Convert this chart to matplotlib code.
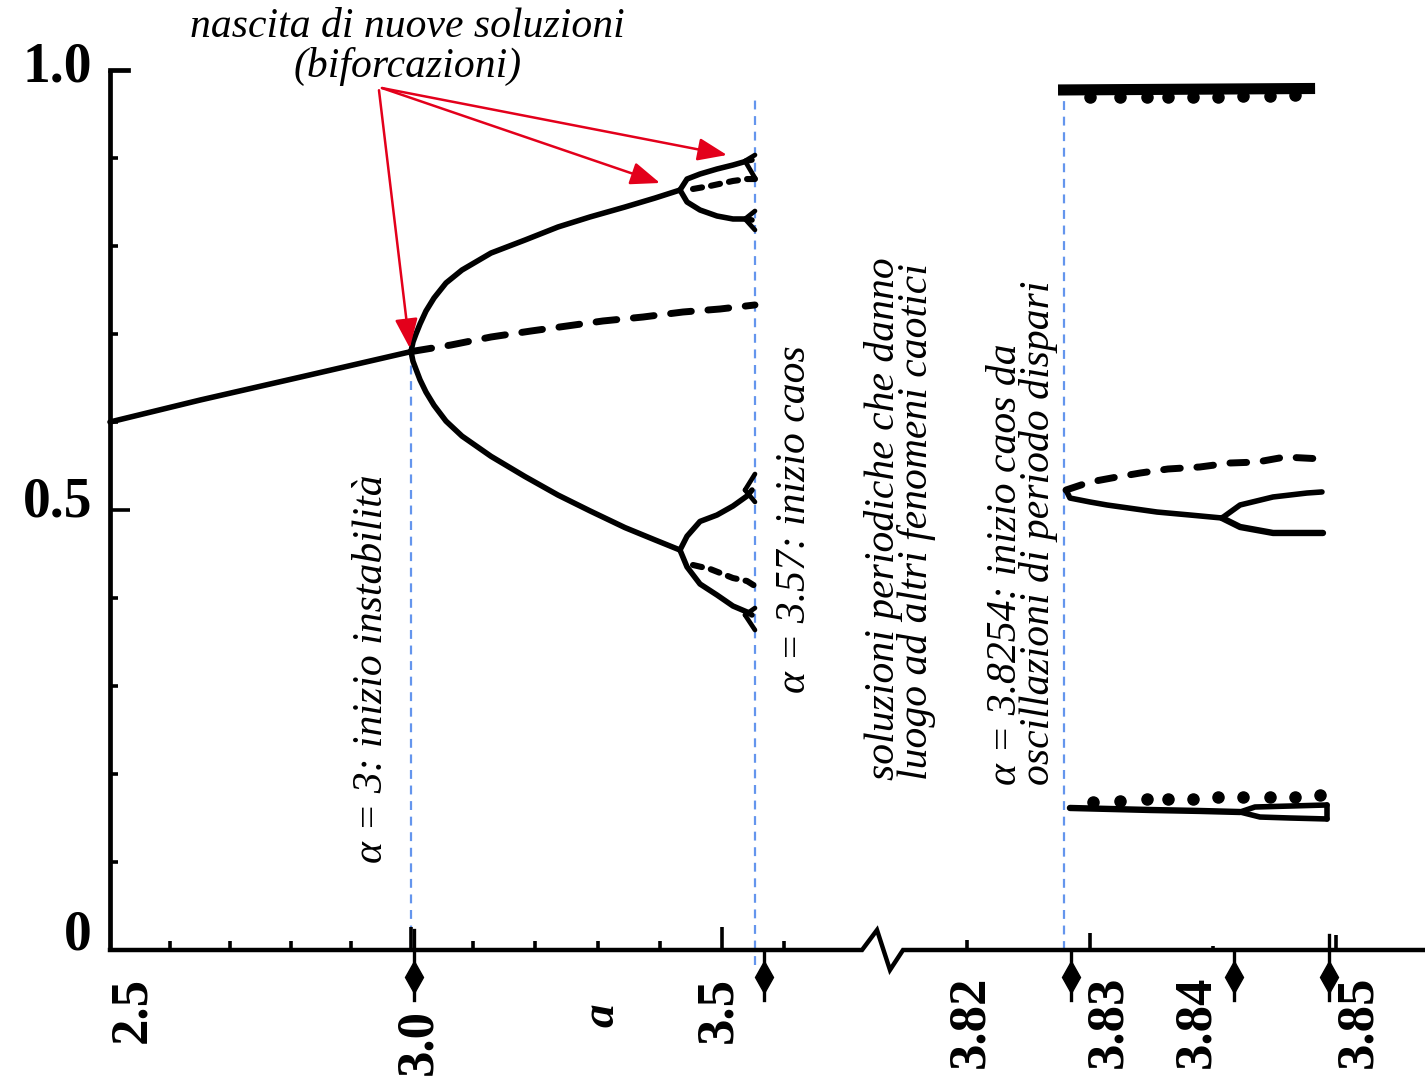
import numpy as np
import matplotlib
matplotlib.use("Agg")
import matplotlib.pyplot as plt

# ---------------------------------------------------------------------------
#  broken alpha axis: 2.5-3.6 linear, compressed gap, 3.82-3.86 expanded
# ---------------------------------------------------------------------------
SCALE_ALPHA = [2.0, 2.5, 3.0, 3.6, 3.82, 3.90]
SCALE_POS = [-191.0, 110.0, 411.0, 784.0, 967.0, 1951.0]


def fwd(a):
    return np.interp(a, SCALE_ALPHA, SCALE_POS)


def inv(p):
    return np.interp(p, SCALE_POS, SCALE_ALPHA)


BLUE = "#6495ED"
RED = "#E3001B"
SERIF = "Liberation Serif"
LW = 4.0

# ---------------------------------------------------------------------------
#  data (alpha, x)
# ---------------------------------------------------------------------------
# period 1, stable / unstable
p1_a = [2.5, 2.65, 2.816, 3.0]
p1_x = [0.600, 0.625, 0.651, 0.680]
p1u_a = [3.0, 3.0643, 3.1287, 3.193, 3.2509, 3.3088, 3.3732, 3.4375, 3.497, 3.5533]
p1u_x = [0.680, 0.6875, 0.6966, 0.7034, 0.7091, 0.7148, 0.7193, 0.725, 0.7284, 0.733]

# period 2
p2_a = [3.0, 3.0032, 3.008, 3.0145, 3.0241, 3.037, 3.0563, 3.082, 3.1287,
        3.1834, 3.2364, 3.2879, 3.3442, 3.3925, 3.4327]
p2_hi = [0.680, 0.6909, 0.700, 0.7114, 0.7261, 0.7409, 0.758, 0.7727, 0.792,
         0.8068, 0.8216, 0.833, 0.8443, 0.8545, 0.8636]
p2_lo = [0.680, 0.669, 0.660, 0.648, 0.634, 0.619, 0.601, 0.584, 0.561,
         0.538, 0.517, 0.499, 0.480, 0.466, 0.4545]

# period 4 (upper pair and lower pair) and unstable period 2
p4_a = [3.4327, 3.444, 3.4649, 3.4922, 3.5179, 3.5405, 3.5485]
p4a_hi = [0.8636, 0.8761, 0.8818, 0.8875, 0.892, 0.8966, 0.8977]
p4a_lo = [0.8636, 0.850, 0.8409, 0.8341, 0.8307, 0.8307, 0.8295]
p4b_hi = [0.4545, 0.4702, 0.487, 0.4943, 0.5045, 0.5159, 0.5227]
p4b_lo = [0.4545, 0.4353, 0.4159, 0.4034, 0.3909, 0.3841, 0.3807]
p2u_a = [3.4536, 3.481, 3.5179, 3.5405, 3.5533]
p2u_hi = [0.8648, 0.8682, 0.8739, 0.8761, 0.8761]
p2u_lo = [0.4375, 0.4330, 0.4227, 0.4193, 0.4136]

# period 8 forks at the ends of the period-4 branches
p8_a = [3.5373, 3.5533]
p8_tips = [(0.8966, 0.9034, 0.8773), (0.8307, 0.8398, 0.8182),
           (0.5227, 0.5409, 0.5091), (0.3807, 0.3886, 0.3636)]

# period-3 window
p3top_a = [3.8274, 3.8483]
p3top_x = [0.9773, 0.9790]
p3top_dot_a = [3.83, 3.83244, 3.83463, 3.83634, 3.83837, 3.84041, 3.84244, 3.84463, 3.84667]
p3top_dot_x = [0.9693, 0.9693, 0.9693, 0.9693, 0.9693, 0.9693, 0.9705, 0.9705, 0.9716]

p3mid_a = [3.82805, 3.82837, 3.83, 3.83138, 3.83545, 3.83813, 3.84073]
p3mid_x = [0.5227, 0.5136, 0.5091, 0.5057, 0.4977, 0.4943, 0.4909]
p3mid_hi_a = [3.84073, 3.8422, 3.84488, 3.84764, 3.84886]
p3mid_hi_x = [0.4909, 0.5057, 0.5148, 0.5193, 0.5205]
p3mid_lo_a = [3.84073, 3.8422, 3.84488, 3.84894]
p3mid_lo_x = [0.4909, 0.4807, 0.4739, 0.4739]
p3mid_u_a = [3.82805, 3.83, 3.8322, 3.83407, 3.83634, 3.83894, 3.84138, 3.84358, 3.84585, 3.84886]
p3mid_u_x = [0.5227, 0.5318, 0.5375, 0.542, 0.5466, 0.5489, 0.5534, 0.5545, 0.5602, 0.558]

p3bot_a = [3.82837, 3.83488, 3.83894, 3.8422]
p3bot_x = [0.1614, 0.1591, 0.158, 0.1568]
p3bot_hi_a = [3.8422, 3.84341, 3.84626, 3.84927]
p3bot_hi_x = [0.1568, 0.1625, 0.1636, 0.1648]
p3bot_lo_a = [3.8422, 3.84382, 3.84626, 3.84927]
p3bot_lo_x = [0.1568, 0.1511, 0.150, 0.1489]
p3bot_dot_a = [3.83024, 3.83244, 3.83463, 3.83634, 3.83837, 3.84041, 3.84244, 3.84463, 3.84667, 3.8487]
p3bot_dot_x = [0.1682, 0.1693, 0.1716, 0.1716, 0.1716, 0.1739, 0.1739, 0.1739, 0.1739, 0.1761]

# reference lines, bifurcation markers, axis ticks
ref_a = [3.0, 3.5533, 3.82789]
ref_top = [0.680, 0.966, 0.983]
ref_bot = [0.0, -0.017, 0.0]
mark_a = [3.0048, 3.5678, 3.82846, 3.84171, 3.84943]
mark_top = [0.0227, -0.002, 0.0, 0.0, 0.017]
xt_minor = [2.6, 2.7, 2.8, 2.9, 3.1, 3.2, 3.3, 3.4, 3.6]
xt_major = [3.0, 3.5]
xt_right = [3.82, 3.83, 3.84, 3.85]
xt_right_h = [0.011, 0.019, 0.005, 0.017]
yt_minor = [0.1, 0.2, 0.3, 0.4, 0.6, 0.7, 0.8, 0.9]
break_a = [2.5, 3.6938, 3.7118, 3.7274, 3.7431, 3.8572]
break_y = [0.0, 0.0, 0.0227, -0.0227, 0.0, 0.0]

xlab_text = ["2.5", "3.0", "3.5", "3.82", "3.83", "3.84", "3.85"]
xlab_a = [2.5365, 3.0113, 3.4938, 3.82024, 3.83146, 3.83862, 3.85179]
xlab_y = [-0.0682, -0.1045, -0.0682, -0.0818, -0.0818, -0.0818, -0.0818]
ylab_text = ["1.0", "0.5", "0"]
ylab_y = [1.0034, 0.508, 0.017]

# ---------------------------------------------------------------------------
fig = plt.figure(figsize=(14.25, 10.78), dpi=100)
ax = fig.add_axes([0, 0, 1, 1])
ax.set_xscale("function", functions=(fwd, inv))
ax.set_xlim(inv(0.0), inv(1425.0))
ax.set_ylim(-(1078 - 950) / 880, 950 / 880)
ax.set_axis_off()

K = dict(color="k", solid_capstyle="round", solid_joinstyle="round")

# axes drawn by hand (the alpha axis is broken)
ax.plot([2.5, 2.5], [0.0, 1.0], color="k", lw=3.4, solid_capstyle="butt")
ax.plot([2.5, 2.53], [1.0, 1.0], color="k", lw=3.4)
ax.plot(break_a, break_y, color="k", lw=3.2, solid_joinstyle="miter")
ax.hlines(yt_minor, 2.5, 2.5133, color="k", lw=2.6)
ax.hlines([0.5], 2.5, 2.5332, color="k", lw=2.6)
ax.vlines(xt_minor, 0, 0.010, color="k", lw=2.6)
ax.vlines(xt_major, 0, 0.026, color="k", lw=2.6)
for a, h in zip(xt_right, xt_right_h):
    ax.vlines(a, 0, h, color="k", lw=2.6)

# blue reference lines
for a, t, b in zip(ref_a, ref_top, ref_bot):
    ax.plot([a, a], [b, t], color=BLUE, lw=1.6, dashes=(4, 3), zorder=1)

# bifurcation markers below the axis
for a, t in zip(mark_a, mark_top):
    ax.plot([a, a], [t, -0.0568], color="k", lw=2.4)
    ax.plot([a], [-0.0307], marker="d", ms=16, color="k")

# period 1 and 2
ax.plot(p1_a, p1_x, lw=LW, **K)
ax.plot(p1u_a, p1u_x, color="k", lw=5.0, dashes=(3.0, 2.4), dash_capstyle="round")
ax.plot(p2_a, p2_hi, lw=LW, **K)
ax.plot(p2_a, p2_lo, lw=LW, **K)

# period 4 / 8
for hi, lo in [(p4a_hi, p4a_lo), (p4b_hi, p4b_lo)]:
    ax.plot(p4_a, hi, lw=LW, **K)
    ax.plot(p4_a, lo, lw=LW, **K)
for ux in (p2u_hi, p2u_lo):
    ax.plot(p2u_a, ux, color="k", lw=4.4, dashes=(1.5, 1.5), dash_capstyle="round")
for base, up, dn in p8_tips:
    ax.plot(p8_a, [base, up], lw=3.4, **K)
    ax.plot(p8_a, [base, dn], lw=3.4, **K)

# period-3 window
ax.plot(p3top_a, p3top_x, color="k", lw=8.0, solid_capstyle="butt")
ax.plot(p3top_dot_a, p3top_dot_x, "o", color="k", ms=8)
ax.plot(p3mid_a, p3mid_x, lw=LW, **K)
ax.plot(p3mid_hi_a, p3mid_hi_x, lw=LW, **K)
ax.plot(p3mid_lo_a, p3mid_lo_x, lw=4.6, **K)
ax.plot(p3mid_u_a, p3mid_u_x, color="k", lw=5.0, dashes=(2.4, 2.4), dash_capstyle="round")
ax.plot(p3bot_a, p3bot_x, lw=4.6, **K)
ax.plot(p3bot_hi_a, p3bot_hi_x, lw=LW, **K)
ax.plot(p3bot_lo_a, p3bot_lo_x, lw=LW, **K)
ax.plot([p3bot_hi_a[-1]] * 2, [p3bot_lo_x[-1], p3bot_hi_x[-1]], lw=LW, **K)
ax.plot(p3bot_dot_a, p3bot_dot_x, "o", color="k", ms=8)

# red arrows pointing at the bifurcations
arr = dict(arrowstyle="-|>,head_length=0.9,head_width=0.35", color=RED, lw=1.8,
           shrinkA=0, shrinkB=0, mutation_scale=20)
ax.annotate("", xy=(2.998, 0.684), xytext=(2.9468, 0.977), arrowprops=arr)
ax.annotate("", xy=(3.4005, 0.8716), xytext=(2.9518, 0.9795), arrowprops=arr)
ax.annotate("", xy=(3.5083, 0.9034), xytext=(2.9518, 0.9795), arrowprops=arr)

# axis labels
for s, a, y in zip(xlab_text, xlab_a, xlab_y):
    ax.text(a, y, s, rotation=90, ha="center", va="center", fontsize=38,
            family=SERIF, weight="bold")
ax.text(3.3072, -0.0739, "a", rotation=90, ha="center", va="center",
        fontsize=34, family=SERIF, weight="bold", style="italic")
for s, y in zip(ylab_text, ylab_y):
    ax.text(2.4701, y, s, ha="right", va="center", fontsize=40,
            family=SERIF, weight="bold")

# annotations
ital = dict(family=SERIF, style="italic", fontsize=30)
ax.text(2.9934, 1.0375, "nascita di nuove soluzioni", ha="center", va="baseline", **ital)
ax.text(2.995, 0.9920, "(biforcazioni)", ha="center", va="baseline", **ital)
ax.text(2.9352, 0.0989, "α = 3: inizio instabilità", rotation=90,
        ha="center", va="bottom", **ital)
ax.text(3.6132, 0.292, "α = 3.57: inizio caos", rotation=90,
        ha="center", va="bottom", **ital)
ax.text(3.7395, 0.193, "soluzioni periodiche che danno\nluogo ad altri fenomeni caotici",
        rotation=90, ha="center", va="bottom", multialignment="left",
        linespacing=0.8, **ital)
ax.text(3.82447, 0.1875, "α = 3.8254: inizio caos da\noscillazioni di periodo dispari",
        rotation=90, ha="center", va="bottom", multialignment="left",
        linespacing=0.8, **ital)

fig.savefig("out.png", dpi=100)
